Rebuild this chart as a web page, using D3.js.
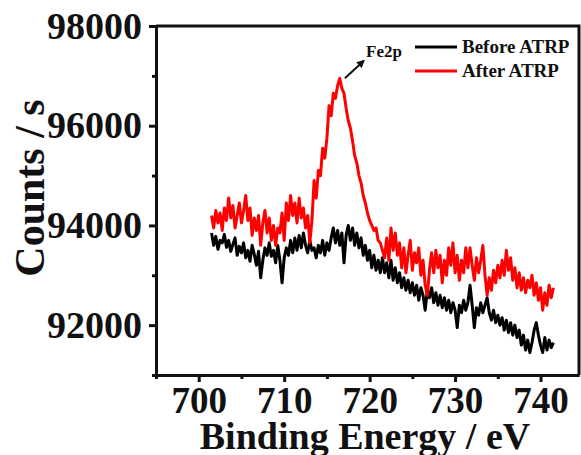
<!DOCTYPE html>
<html>
<head>
<meta charset="utf-8">
<script src="https://cdn.jsdelivr.net/npm/d3@7"></script>
<style>
  body { margin: 0; background: #fff; }
  svg text { font-family: "Liberation Serif", "Times New Roman", serif; font-weight: bold; fill: #111; }
</style>
</head>
<body>
<svg id="chart" width="581" height="455"></svg>
<script>
// binding energy grid (eV)
const energy = [
  701.5, 701.75, 702, 702.25, 702.5, 702.75, 703, 703.25,
  703.5, 703.75, 704, 704.25, 704.5, 704.75, 705, 705.25,
  705.5, 705.75, 706, 706.25, 706.5, 706.75, 707, 707.25,
  707.5, 707.75, 708, 708.25, 708.5, 708.75, 709, 709.25,
  709.5, 709.75, 710, 710.25, 710.5, 710.75, 711, 711.25,
  711.5, 711.75, 712, 712.25, 712.5, 712.75, 713, 713.25,
  713.5, 713.75, 714, 714.25, 714.5, 714.75, 715, 715.25,
  715.5, 715.75, 716, 716.25, 716.5, 716.75, 717, 717.25,
  717.5, 717.75, 718, 718.25, 718.5, 718.75, 719, 719.25,
  719.5, 719.75, 720, 720.25, 720.5, 720.75, 721, 721.25,
  721.5, 721.75, 722, 722.25, 722.5, 722.75, 723, 723.25,
  723.5, 723.75, 724, 724.25, 724.5, 724.75, 725, 725.25,
  725.5, 725.75, 726, 726.25, 726.5, 726.75, 727, 727.25,
  727.5, 727.75, 728, 728.25, 728.5, 728.75, 729, 729.25,
  729.5, 729.75, 730, 730.25, 730.5, 730.75, 731, 731.25,
  731.5, 731.75, 732, 732.25, 732.5, 732.75, 733, 733.25,
  733.5, 733.75, 734, 734.25, 734.5, 734.75, 735, 735.25,
  735.5, 735.75, 736, 736.25, 736.5, 736.75, 737, 737.25,
  737.5, 737.75, 738, 738.25, 738.5, 738.75, 739, 739.25,
  739.5, 739.75, 740, 740.25, 740.5, 740.75, 741, 741.25,
  741.5
];

// Before ATRP counts/s
const before = [
  93850, 93600, 93780, 93520, 93700, 93650, 93820, 93560,
  93700, 93480, 93620, 93750, 93400, 93580, 93450, 93650,
  93350, 93500, 93280, 93600, 93420, 93200, 93480, 92950,
  93300, 93550, 93400, 93650, 93380, 93500, 93250, 93600,
  93300, 92850, 93350, 93550, 93400, 93700, 93450, 93750,
  93500, 93800, 93550, 93850, 93600, 93450, 93700, 93500,
  93550, 93350, 93600, 93450, 93700, 93400, 93650, 93500,
  93750, 93950, 93650, 93900, 93600, 93850, 93250, 93800,
  94000, 93700, 93950, 93600, 93850, 93550, 93750, 93400,
  93600, 93300, 93500, 93150, 93400, 93100, 93300, 93050,
  93350, 93050, 93250, 92950, 93300, 92900, 93150, 92850,
  93050, 92750, 92950, 92700, 92900, 92650, 92850, 92600,
  92800, 92500, 92750, 92600, 92300, 92700, 92550, 92750,
  92450, 92650, 92400, 92600, 92350, 92550, 92300, 92500,
  92250, 92450, 92300, 91950, 92400, 92250, 92500, 92300,
  92450, 92800, 92400, 91950, 92350, 92200, 92450, 92250,
  92400, 92550, 92250, 92100, 92300, 92050, 92200, 92000,
  92150, 91900, 92100, 91850, 92050, 91800, 92000, 91750,
  91900, 91600, 91800, 91500, 91700, 91450, 91650, 91900,
  92050, 91800, 91600, 91450, 91750, 91500, 91700, 91550,
  91650
];

// After ATRP counts/s
const after = [
  94200, 93950, 94300, 94050, 94250, 93900, 94350, 94100,
  94550, 94150, 94400, 93950, 94200, 94450, 94050, 94300,
  94600, 94100, 94350, 93800, 94150, 93900, 94200, 93600,
  94050, 94300, 93850, 94150, 93700, 94000, 93600, 93950,
  93850, 94250, 93700, 94450, 94100, 94600, 94200, 94450,
  94050, 94550, 94150, 94350, 93950, 94200, 93650, 94100,
  94900, 94550, 95100, 95000, 95550, 95350, 95750, 96400,
  96200, 96650, 96550, 96800, 96950, 96750, 96650, 96350,
  96100, 95950, 95700, 95400, 95250, 95000, 94850, 94600,
  94450, 94250, 94100, 94000, 93900, 93950, 93700, 93650,
  93500, 93350, 93750, 93300, 93950, 93500, 93850, 93400,
  93650, 93150, 93550, 93050, 93400, 93700, 93100, 93450,
  93250, 93550, 93000, 93300, 92800, 92600, 93100, 93450,
  93050, 93500, 93150, 93400, 92850, 93300, 93000, 93550,
  93200, 93650, 93050, 93400, 92900, 93300, 93050, 93550,
  93150, 93550, 93200, 92900, 93350, 93050, 93300, 93600,
  93000, 92600, 92950, 92700, 93100, 92850, 93200, 92950,
  93300, 93000, 93500, 93100, 93350, 92900, 93150, 92750,
  93050, 92700, 92950, 92650, 92900, 92750, 93000, 92600,
  92850, 92500, 92750, 92300, 92650, 92400, 92800, 92550,
  92750
];

const xTicks = [700, 710, 720, 730, 740];
const xMinor = [695, 705, 715, 725, 735];
const yTicks = [92000, 94000, 96000, 98000];
const yMinor = [91000, 93000, 95000, 97000];

const series = [
  { name: 'Before ATRP', values: before, color: '#000' },
  { name: 'After ATRP', values: after, color: '#f00' }
];

const box = { left: 156, right: 579, top: 26, bottom: 375 };

const svg = d3.select('#chart');

const xScale = d3.scaleLinear().domain([695, 744.5]).range([box.left, box.right]);
const yScale = d3.scaleLinear().domain([91000, 98000]).range([box.bottom, box.top]);

// frame (top + right)
svg.append('path')
  .attr('d', `M${box.left},${box.top}H${box.right}V${box.bottom}`)
  .attr('fill', 'none')
  .attr('stroke', '#111')
  .attr('stroke-width', 3);

const lineGen = d3.line()
  .x((d, i) => xScale(energy[i]))
  .y(d => yScale(d));

series.forEach(s => {
  svg.append('path')
    .datum(s.values)
    .attr('d', lineGen)
    .attr('fill', 'none')
    .attr('stroke', s.color)
    .attr('stroke-width', 3)
    .attr('stroke-linejoin', 'round');
});

// axes
const xAxis = d3.axisBottom(xScale).tickValues(xTicks).tickSize(7).tickSizeOuter(0).tickPadding(5).tickFormat(d3.format('d'));
const xAxisMinor = d3.axisBottom(xScale).tickValues(xMinor).tickSize(4).tickSizeOuter(0).tickFormat('');
const yAxis = d3.axisLeft(yScale).tickValues(yTicks).tickSize(7).tickSizeOuter(0).tickPadding(7).tickFormat(d3.format('d'));
const yAxisMinor = d3.axisLeft(yScale).tickValues(yMinor).tickSize(4).tickSizeOuter(0).tickFormat('');

const gx = svg.append('g').attr('transform', `translate(0,${box.bottom})`).call(xAxis);
svg.append('g').attr('transform', `translate(0,${box.bottom})`).call(xAxisMinor);
const gy = svg.append('g').attr('transform', `translate(${box.left},0)`).call(yAxis);
svg.append('g').attr('transform', `translate(${box.left},0)`).call(yAxisMinor);

svg.selectAll('.domain').attr('stroke', '#111').attr('stroke-width', 3);
svg.selectAll('.tick line').attr('stroke', '#111').attr('stroke-width', 3);
gx.selectAll('text').attr('font-size', 37).attr('fill', '#111');
gy.selectAll('text').attr('font-size', 38).attr('fill', '#111');
svg.selectAll('g').attr('font-family', null);

// axis titles
svg.append('text')
  .attr('x', 365).attr('y', 449)
  .attr('text-anchor', 'middle')
  .attr('font-size', 38)
  .text('Binding Energy / eV');

svg.append('text')
  .attr('transform', 'translate(44,188) rotate(-90)')
  .attr('text-anchor', 'middle')
  .attr('font-size', 42)
  .text('Counts / s');

// legend
const legend = svg.append('g').attr('transform', 'translate(415,47)');
series.forEach((s, i) => {
  legend.append('line')
    .attr('x1', 0).attr('x2', 42)
    .attr('y1', i * 24).attr('y2', i * 24)
    .attr('stroke', s.color)
    .attr('stroke-width', 3);
  legend.append('text')
    .attr('x', 47).attr('y', i * 24 + 6)
    .attr('font-size', 19)
    .text(s.name);
});

// peak annotation
svg.append('defs').append('marker')
  .attr('id', 'head')
  .attr('viewBox', '0 0 10 10')
  .attr('refX', 8).attr('refY', 5)
  .attr('markerWidth', 4).attr('markerHeight', 4)
  .attr('orient', 'auto')
  .append('path')
  .attr('d', 'M0,0L10,5L0,10Z')
  .attr('fill', '#111');

svg.append('line')
  .attr('x1', xScale(717.1)).attr('y1', yScale(96950))
  .attr('x2', xScale(719.3)).attr('y2', yScale(97300))
  .attr('stroke', '#111')
  .attr('stroke-width', 2)
  .attr('marker-end', 'url(#head)');

svg.append('text')
  .attr('x', 366).attr('y', 57)
  .attr('font-size', 17)
  .text('Fe2p');
</script>
</body>
</html>
